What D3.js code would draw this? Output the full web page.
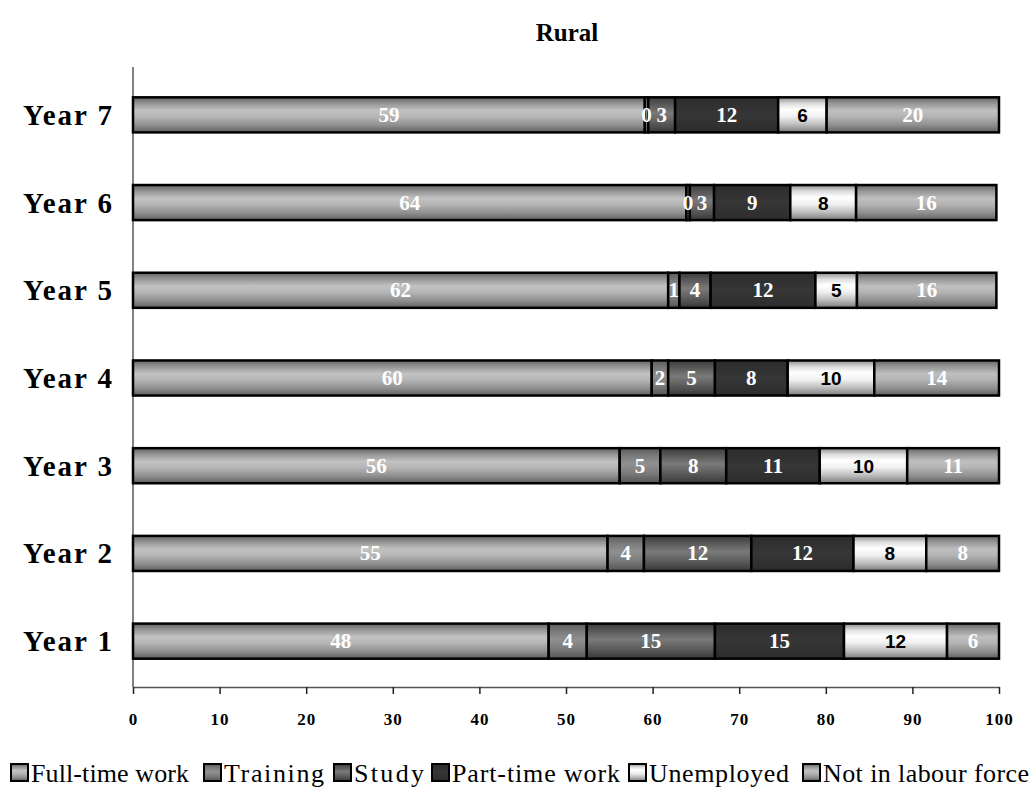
<!DOCTYPE html>
<html>
<head>
<meta charset="utf-8">
<script src="https://cdn.jsdelivr.net/npm/d3@7"></script>
<style>
  html, body { margin: 0; padding: 0; background: #fff; }
  svg { display: block; }
</style>
</head>
<body>
<svg id="chart" width="1036" height="793"></svg>
<script>
// ---- data ----
const years = ["Year 1", "Year 2", "Year 3", "Year 4", "Year 5", "Year 6", "Year 7"];
const categories = ["Full-time work", "Training", "Study", "Part-time work", "Unemployed", "Not in labour force"];
const fullTime   = [48.0, 54.8, 56.2, 59.9, 61.8, 63.9, 59.1];
const training   = [4.4, 4.2, 4.7, 1.9, 1.3, 0.4, 0.4];
const study      = [14.8, 12.4, 7.6, 5.4, 3.6, 2.8, 3.1];
const partTime   = [14.9, 11.8, 10.8, 8.4, 12.1, 8.8, 11.9];
const unemployed = [11.9, 8.4, 10.1, 10.0, 4.8, 7.6, 5.6];
const notInLF    = [6.0, 8.4, 10.6, 14.4, 16.1, 16.2, 19.9];
const xTicks = [0, 10, 20, 30, 40, 50, 60, 70, 80, 90, 100];
const title = "Rural";

const seriesArrays = [fullTime, training, study, partTime, unemployed, notInLF];
const rows = years.map((y, i) => {
  const o = { year: y };
  categories.forEach((c, k) => { o[c] = seriesArrays[k][i]; });
  return o;
});

// ---- styles ----
const gradStops = {
  "Full-time work":      [["0%", "#646464"], ["18%", "#969696"], ["38%", "#c2c2c2"], ["55%", "#b6b6b6"], ["80%", "#8e8e8e"], ["100%", "#5e5e5e"]],
  "Training":            [["0%", "#5c5c5c"], ["25%", "#7e7e7e"], ["45%", "#909090"], ["70%", "#7c7c7c"], ["100%", "#555555"]],
  "Study":               [["0%", "#3c3c3c"], ["25%", "#5e5e5e"], ["45%", "#7a7a7a"], ["70%", "#5e5e5e"], ["100%", "#383838"]],
  "Part-time work":      [["0%", "#2c2c2c"], ["50%", "#363636"], ["100%", "#2c2c2c"]],
  "Unemployed":          [["0%", "#8a8a8a"], ["18%", "#dddddd"], ["35%", "#ffffff"], ["55%", "#f0f0f0"], ["78%", "#bcbcbc"], ["100%", "#7a7a7a"]],
  "Not in labour force": [["0%", "#646464"], ["18%", "#979797"], ["38%", "#bfbfbf"], ["55%", "#b4b4b4"], ["80%", "#8e8e8e"], ["100%", "#5e5e5e"]]
};
const gradId = c => "g" + categories.indexOf(c);

const svg = d3.select("#chart");
const defs = svg.append("defs");
categories.forEach(c => {
  const g = defs.append("linearGradient").attr("id", gradId(c))
    .attr("x1", 0).attr("y1", 0).attr("x2", 0).attr("y2", 1);
  gradStops[c].forEach(s => g.append("stop").attr("offset", s[0]).attr("stop-color", s[1]));
});

const serif = "Liberation Serif, Times New Roman, serif";

// ---- scales ----
const x = d3.scaleLinear().domain([0, 100]).range([133, 999]);
const y = d3.scaleBand().domain(years.slice().reverse()).range([71, 685])
  .paddingInner(0.6).paddingOuter(0.3);

// title
svg.append("text").attr("x", 567).attr("y", 41)
  .attr("text-anchor", "middle")
  .attr("font-family", serif)
  .attr("font-weight", "bold").attr("font-size", 25)
  .text(title);

// y axis line
svg.append("line").attr("x1", 133).attr("x2", 133).attr("y1", 67).attr("y2", 687)
  .attr("stroke", "#808080").attr("stroke-width", 2);

// x axis
const xAxis = d3.axisBottom(x).tickValues(xTicks).tickSize(7).tickSizeOuter(0).tickPadding(19)
  .tickFormat(d3.format("d"));
const gx = svg.append("g").attr("transform", "translate(0,687)").call(xAxis);
gx.select(".domain").attr("stroke", "#555").attr("stroke-width", 1.5);
gx.selectAll(".tick line").attr("stroke", "#222").attr("stroke-width", 1.5);
gx.selectAll(".tick text")
  .attr("font-family", serif)
  .attr("font-weight", "bold").attr("font-size", 17).attr("fill", "#000")
  .attr("letter-spacing", 1);

// year labels
svg.append("g").selectAll("text").data(years).join("text")
  .attr("x", 112).attr("y", d => y(d) + y.bandwidth() / 2 + 10)
  .attr("text-anchor", "end")
  .attr("font-family", serif)
  .attr("font-weight", "bold").attr("font-size", 29)
  .attr("textLength", 89).attr("lengthAdjust", "spacing")
  .text(d => d);

// stacked bars
const stack = d3.stack().keys(categories);
const series = stack(rows);

const layers = svg.append("g").selectAll("g").data(series).join("g")
  .attr("fill", d => `url(#${gradId(d.key)})`);

layers.selectAll("rect").data(d => d.map(p => ({ p, key: d.key }))).join("rect")
  .attr("x", d => x(d.p[0]))
  .attr("y", d => y(d.p.data.year))
  .attr("width", d => x(d.p[1]) - x(d.p[0]))
  .attr("height", y.bandwidth())
  .attr("stroke", "#000").attr("stroke-width", 2.5);

// segment labels
series.forEach(s => {
  const isUnemp = s.key === "Unemployed";
  svg.append("g").selectAll("text").data(s).join("text")
    .attr("x", d => (x(d[0]) + x(d[1])) / 2)
    .attr("y", d => y(d.data.year) + y.bandwidth() / 2 + 7)
    .attr("text-anchor", "middle")
    .attr("font-family", isUnemp ? "Liberation Sans, Arial, sans-serif" : serif)
    .attr("font-weight", "bold")
    .attr("font-size", isUnemp ? 19 : 21)
    .attr("fill", isUnemp ? "#000" : "#fff")
    .text(d => Math.round(d.data[s.key]));
});

// legend
const legendX = [11, 204, 334, 432, 629, 803];
const legendTextW = [158, 100, 70, 168, 140, 206];
const lg = svg.append("g").selectAll("g").data(categories).join("g")
  .attr("transform", (d, i) => `translate(${legendX[i]},0)`);
lg.append("rect").attr("x", 0).attr("y", 764).attr("width", 17).attr("height", 17)
  .attr("fill", d => `url(#${gradId(d)})`).attr("stroke", "#000").attr("stroke-width", 2);
lg.append("text").attr("x", 20).attr("y", 782)
  .attr("font-family", serif)
  .attr("font-size", 26)
  .attr("textLength", (d, i) => legendTextW[i]).attr("lengthAdjust", "spacing")
  .text(d => d);
</script>
</body>
</html>
